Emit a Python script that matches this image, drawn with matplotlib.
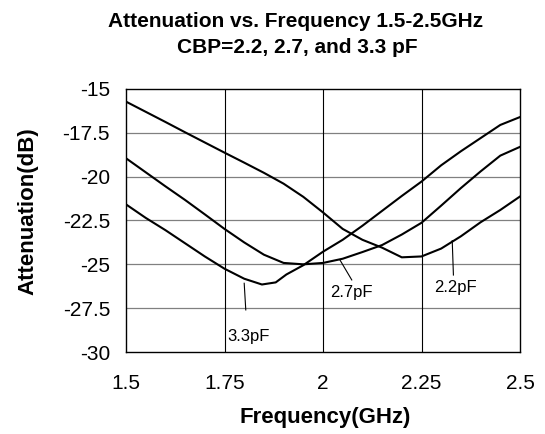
import matplotlib
matplotlib.use('Agg')
import matplotlib.pyplot as plt
import numpy as np

plt.rcParams['font.family'] = ['Liberation Sans', 'DejaVu Sans']

# frequency points (GHz) and attenuation (dB)
freq22 = [1.5, 1.55, 1.6, 1.65, 1.7, 1.75, 1.8, 1.85, 1.9, 1.95, 2.0, 2.05, 2.1, 2.15, 2.2, 2.25, 2.3, 2.35, 2.4, 2.45, 2.5]
att22 = [-15.72, -16.3, -16.88, -17.47, -18.05, -18.63, -19.2, -19.78, -20.4, -21.15, -22.04, -22.98, -23.6, -24.05, -24.6, -24.55, -24.1, -23.4, -22.6, -21.9, -21.13]

freq27 = [1.5, 1.55, 1.6, 1.65, 1.7, 1.75, 1.8, 1.85, 1.9, 1.95, 2.0, 2.05, 2.1, 2.15, 2.2, 2.25, 2.3, 2.35, 2.4, 2.45, 2.5]
att27 = [-18.95, -19.75, -20.55, -21.33, -22.15, -22.98, -23.75, -24.45, -24.92, -25.0, -24.92, -24.68, -24.3, -23.9, -23.3, -22.63, -21.65, -20.65, -19.7, -18.8, -18.3]

freq33 = [1.5, 1.55, 1.6, 1.65, 1.7, 1.75, 1.8, 1.845, 1.88, 1.907, 1.95, 2.0, 2.05, 2.1, 2.15, 2.2, 2.25, 2.3, 2.35, 2.4, 2.45, 2.5]
att33 = [-21.58, -22.35, -23.05, -23.8, -24.55, -25.25, -25.82, -26.15, -26.03, -25.58, -25.05, -24.28, -23.6, -22.8, -21.95, -21.1, -20.28, -19.35, -18.55, -17.8, -17.05, -16.6]

xTicks = [1.5, 1.75, 2.0, 2.25, 2.5]
xTickLabels = ['1.5', '1.75', '2', '2.25', '2.5']
yTicks = [-30, -27.5, -25, -22.5, -20, -17.5, -15]
yTickLabels = ['-30', '-27.5', '-25', '-22.5', '-20', '-17.5', '-15']

# label text, where the text sits, and the leader line (from curve to label)
labels = ['3.3pF', '2.7pF', '2.2pF']
labelPos = [(1.757, -29.1), (2.019, -26.62), (2.281, -26.33)]
leaderFrom = [(1.800, -26.08), (2.043, -24.75), (2.328, -23.65)]
leaderTo = [(1.804, -27.6), (2.073, -25.89), (2.331, -25.61)]

fig = plt.figure(figsize=(5.45, 4.34), dpi=100)
ax = fig.add_axes([126/545, 1-352/434, 394/545, 263/434])

for f, a in [(freq22, att22), (freq27, att27), (freq33, att33)]:
    ax.plot(f, a, color='black', lw=1.5, zorder=3)

# grid: grey horizontals, black verticals
for y in yTicks[1:-1]:
    ax.axhline(y, color='#808080', lw=0.9, zorder=1)
for x in xTicks[1:-1]:
    ax.axvline(x, color='black', lw=0.8, zorder=1)

for i in range(len(labels)):
    ax.plot([leaderFrom[i][0], leaderTo[i][0]], [leaderFrom[i][1], leaderTo[i][1]], color='black', lw=0.8, zorder=2)
    ax.text(labelPos[i][0], labelPos[i][1], labels[i], fontsize=12, ha='left', va='center')

ax.set_xlim(1.5, 2.5)
ax.set_ylim(-30, -15)
ax.set_xticks(xTicks)
ax.set_xticklabels(xTickLabels)
ax.set_yticks(yTicks)
ax.set_yticklabels(yTickLabels)
ax.tick_params(axis='both', length=0, labelsize=15)
ax.tick_params(axis='x', pad=16)
ax.tick_params(axis='y', pad=11.5)
for s in ax.spines.values():
    s.set_color('black')
    s.set_linewidth(1.0)

fig.text(296/545, 1-26.7/434, 'Attenuation vs. Frequency 1.5-2.5GHz', fontsize=15, fontweight='bold', ha='center', va='baseline')
fig.text(297/545, 1-53.3/434, 'CBP=2.2, 2.7, and 3.3 pF', fontsize=15, fontweight='bold', ha='center', va='baseline')
fig.text(325/545, 1-417/434, 'Frequency(GHz)', fontsize=16, fontweight='bold', ha='center', va='center')
fig.text(28/545, 1-211/434, 'Attenuation(dB)', fontsize=16, fontweight='bold', ha='center', va='center', rotation=90)

fig.savefig('out.png', dpi=100)
